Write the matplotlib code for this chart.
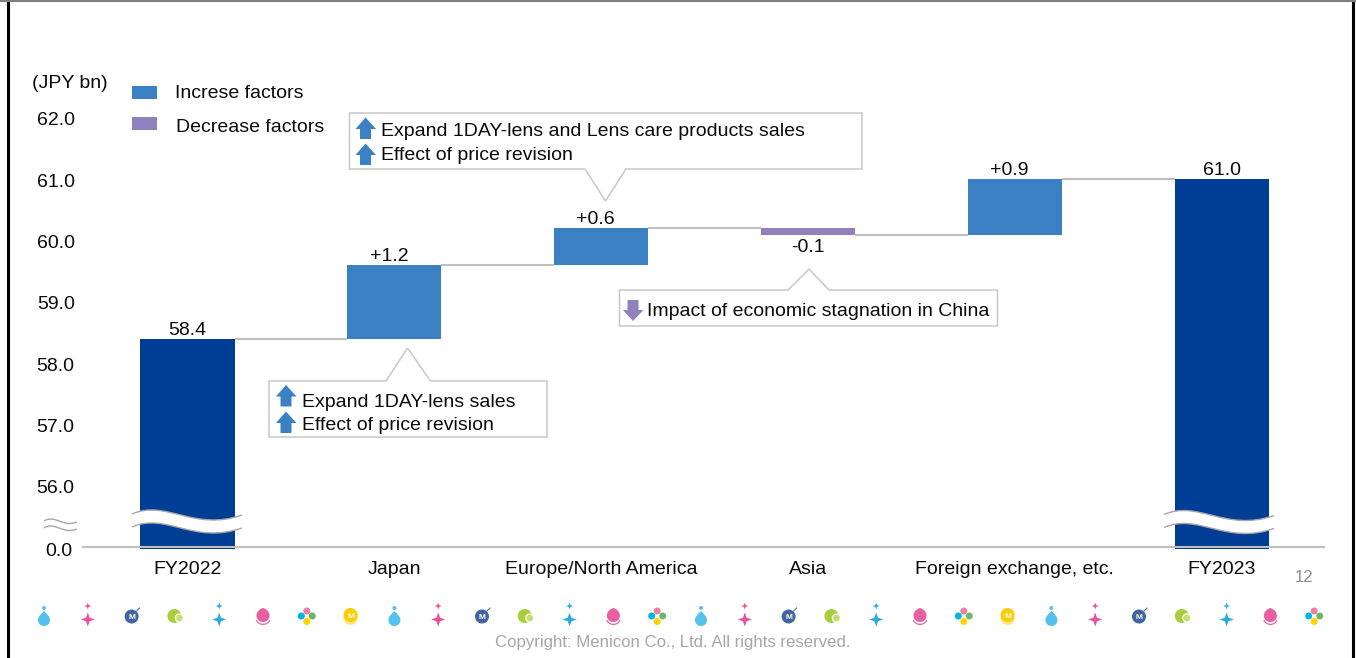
import numpy as np
import matplotlib
matplotlib.use('Agg')
import matplotlib.pyplot as plt
from matplotlib.patches import Circle, PathPatch, Polygon, Rectangle, Wedge
from matplotlib.path import Path
from matplotlib.transforms import ScaledTranslation

plt.rcParams['font.family'] = ['Liberation Sans', 'DejaVu Sans']

# chart data
categories = ['FY2022', 'Japan', 'Europe/North America', 'Asia',
              'Foreign exchange, etc.', 'FY2023']
start_total = 58.4
deltas = [1.2, 0.6, -0.1, 0.9]
end_total = 61.0
value_labels = ['58.4', '+1.2', '+0.6', '-0.1', '+0.9', '61.0']
y_ticks = [56, 57, 58, 59, 60, 61, 62]
y_tick_labels = ['56.0', '57.0', '58.0', '59.0', '60.0', '61.0', '62.0']
axis_floor = 55  #the broken axis: this level is labelled 0.0

NAVY = '#003E95'
BLUE = '#3C80C4'
PURPLE = '#9080BC'
GREY = '#BFBFBF'
INK = '#0A0A0A'
W, H = 1356, 658

fig = plt.figure(figsize=(W / 100, H / 100), dpi=100)

#main axes, placed so that 62 sits at pixel 118 and the floor at pixel 547.3
ax = fig.add_axes([83 / W, 1 - 547.3 / H, 1241 / W, (547.3 - 118) / H])
ax.set_xlim(-0.505, 5.495)
ax.set_ylim(axis_floor, 62)

#waterfall levels
levels = [start_total]
for d in deltas:
    levels.append(levels[-1] + d)
bar_w = 0.455

ax.bar(0, start_total - axis_floor + 0.03, bottom=axis_floor - 0.03, width=bar_w,
       color=NAVY, clip_on=False)
ax.bar(5, end_total - axis_floor + 0.03, bottom=axis_floor - 0.03, width=bar_w,
       color=NAVY, clip_on=False)
for i, d in enumerate(deltas):
    ax.bar(i + 1, abs(d), bottom=min(levels[i], levels[i + 1]), width=bar_w,
           color=BLUE if d > 0 else PURPLE)

#connector lines between the bars
for i, level in enumerate(levels):
    ax.plot([i + bar_w / 2, i + 1 - bar_w / 2], [level, level], color=GREY, lw=1.5,
            solid_capstyle='butt')

#value labels, pushed off the bar ends
tops = [start_total] + [max(levels[i], levels[i + 1]) for i in range(4)] + [end_total]
offsets = [(0, 8), (-5, 9), (-6, 9), (0, -19), (-6, 9), (0, 9)]
for i, label in enumerate(value_labels):
    ax.annotate(label, (i, tops[i]), xytext=offsets[i], textcoords='offset pixels',
                ha='center', va='center', fontsize=14, color=INK)

ax.set_xticks(range(len(categories)))
ax.set_xticklabels(categories, fontsize=14, color=INK)
ax.set_yticks(y_ticks)
ax.set_yticklabels(y_tick_labels, fontsize=14, color=INK)
ax.tick_params(axis='both', length=0)
ax.tick_params(axis='x', pad=10)
ax.tick_params(axis='y', pad=6)
nudge = ScaledTranslation(0, -1 / 100, fig.dpi_scale_trans)
for t in ax.get_yticklabels():
    t.set_transform(t.get_transform() + nudge)
for side in ['top', 'left', 'right']:
    ax.spines[side].set_visible(False)
ax.spines['bottom'].set_color(GREY)
ax.spines['bottom'].set_linewidth(1.5)
ax.annotate('0.0', (-0.505, axis_floor), xytext=(-11, -4), textcoords='offset pixels',
            ha='right', va='center', fontsize=14, color=INK, annotation_clip=False)

#overlay in pixel coordinates for the slide furniture
ov = fig.add_axes([0, 0, 1, 1], zorder=5)
ov.set_xlim(0, W)
ov.set_ylim(H, 0)
ov.axis('off')

#slide frame
ov.plot([7.5, 7.5], [0, H], color='black', lw=2.2)
ov.plot([1353, 1353], [0, H], color='black', lw=2.2)
ov.plot([0, W], [0.8, 0.8], color='#808080', lw=1.5)


def wave(x0, dy):
    #one curve of a wavy break mark
    pts = [(x0, 514), (x0 + 34, 499), (x0 + 62, 532), (x0 + 110, 515)]
    return [(x, y + dy) for x, y in pts]


def draw_break(x0, y_shift):
    top = wave(x0, y_shift)
    low = wave(x0, y_shift + 13)
    verts = top + [low[3]] + [low[2], low[1], low[0]] + [top[0]]
    codes = [Path.MOVETO, Path.CURVE4, Path.CURVE4, Path.CURVE4, Path.LINETO,
             Path.CURVE4, Path.CURVE4, Path.CURVE4, Path.CLOSEPOLY]
    ov.add_patch(PathPatch(Path(verts, codes), fc='white', ec='none'))
    for c in (top, low):
        ov.add_patch(PathPatch(Path(c, [Path.MOVETO, Path.CURVE4, Path.CURVE4, Path.CURVE4]),
                               fc='none', ec='#A6A6A6', lw=1))


draw_break(132, 0)
draw_break(1164, 0.5)

#little break mark on the y axis
for dy in (0, 7):
    ov.add_patch(PathPatch(Path([(44, 521 + dy), (55, 514 + dy), (63, 528 + dy), (77, 522 + dy)],
                                [Path.MOVETO, Path.CURVE4, Path.CURVE4, Path.CURVE4]),
                           fc='none', ec='#A6A6A6', lw=1))

#legend
ov.add_patch(Rectangle((132, 86), 25, 13, fc=BLUE, ec='none'))
ov.add_patch(Rectangle((132, 117), 25, 13, fc=PURPLE, ec='none'))
ov.text(175, 93, 'Increse factors', fontsize=14, va='center', color=INK)
ov.text(176, 128, 'Decrease factors', fontsize=14, va='center', color=INK)
ov.text(32, 84, '(JPY bn)', fontsize=14, va='center', color=INK)


def callout(points):
    ov.add_patch(Polygon(points, closed=True, fc='white', ec='#C8C8C8', lw=1.1))


def up_arrow(x, top):
    ov.add_patch(Polygon([(x + 10, top), (x + 20.5, top + 11.5), (x + 15.5, top + 11.5),
                          (x + 15.5, top + 21.5), (x + 4.5, top + 21.5), (x + 4.5, top + 11.5),
                          (x, top + 11.5)], closed=True, fc=BLUE, ec='none'))


def down_arrow(x, top):
    ov.add_patch(Polygon([(x + 4.5, top), (x + 15.5, top), (x + 15.5, top + 10), (x + 20.5, top + 10),
                          (x + 10, top + 21), (x, top + 10), (x + 4.5, top + 10)],
                         closed=True, fc=PURPLE, ec='none'))


callout([(349.5, 113), (862, 113), (862, 169), (626, 169), (605.5, 201), (585, 169), (349.5, 169)])
up_arrow(355.5, 117.5)
up_arrow(355.5, 143.5)
ov.text(381, 131, 'Expand 1DAY-lens and Lens care products sales', fontsize=14, va='center', color=INK)
ov.text(381, 155, 'Effect of price revision', fontsize=14, va='center', color=INK)

callout([(269, 381), (386, 381), (407.5, 348), (430.5, 381), (547, 381), (547, 437), (269, 437)])
up_arrow(276, 385)
up_arrow(276, 411.5)
ov.text(302, 402.5, 'Expand 1DAY-lens sales', fontsize=14, va='center', color=INK)
ov.text(302, 425.5, 'Effect of price revision', fontsize=14, va='center', color=INK)

callout([(619.5, 290), (788, 290), (809, 269), (829, 290), (997.5, 290), (997.5, 326), (619.5, 326)])
down_arrow(623, 300)
ov.text(647, 311.5, 'Impact of economic stagnation in China', fontsize=14, va='center', color=INK)

#footer
ov.text(1304.5, 578, '12', fontsize=12, ha='center', va='center', color='#8C8C8C')
ov.text(673, 643, 'Copyright: Menicon Co., Ltd. All rights reserved.', fontsize=12.1,
        ha='center', va='center', color='#A6A6A6')


def drop(cx, top, bottom, r, color):
    cy = bottom - r
    verts = [(cx, top), (cx + r * 0.5, cy - r), (cx + r, cy - r * 0.6), (cx + r, cy),
             (cx + r, cy + r * 1.33), (cx - r, cy + r * 1.33), (cx - r, cy),
             (cx - r, cy - r * 0.6), (cx - r * 0.5, cy - r), (cx, top), (cx, top)]
    codes = [Path.MOVETO] + [Path.CURVE4] * 9 + [Path.CLOSEPOLY]
    ov.add_patch(PathPatch(Path(verts, codes), fc=color, ec='none'))


def star(cx, cy, r, color):
    t = r * 0.26
    ov.add_patch(Polygon([(cx, cy - r), (cx + t, cy - t), (cx + r, cy), (cx + t, cy + t),
                          (cx, cy + r), (cx - t, cy + t), (cx - r, cy), (cx - t, cy - t)],
                         closed=True, fc=color, ec='none'))


def sparkle(cx, color):
    star(cx, 606, 3.5, color)
    star(cx, 619.5, 7, color)


def icon(kind, cx):
    if kind == 'drop':
        ov.add_patch(Circle((cx, 608), 2, fc='#55C1EE', ec='none'))
        drop(cx, 611, 626, 6, '#55C1EE')
    elif kind == 'pink_star':
        sparkle(cx, '#E8509A')
    elif kind == 'ball':
        ov.add_patch(Circle((cx, 616.5), 7, fc='#41659F', ec='none'))
        ov.text(cx, 617.5, 'M', fontsize=6, fontweight='bold', color='white', ha='center', va='center')
        ov.plot([cx + 5, cx + 8], [611, 608], color='#41659F', lw=0.7)
    elif kind == 'green':
        ov.add_patch(Circle((cx - 1, 616), 7, fc='#A9CE3B', ec='none'))
        ov.add_patch(Circle((cx + 4, 618), 4, fc='#C5DE70', ec='white', lw=0.9))
    elif kind == 'blue_star':
        sparkle(cx, '#29ABE2')
    elif kind == 'pink_drop':
        drop(cx, 608, 622, 6.5, '#EA609F')
        ov.add_patch(Wedge((cx, 617), 8, 25, 155, width=1.2, fc='#EA609F', ec='none'))
    elif kind == 'flower':
        ov.add_patch(Circle((cx, 611), 3.5, fc='#EB7FA5', ec='none'))
        ov.add_patch(Circle((cx - 5.5, 616), 3.5, fc='#00B5E2', ec='none'))
        ov.add_patch(Circle((cx + 5.5, 616), 3.5, fc='#6DB56D', ec='none'))
        ov.add_patch(Circle((cx, 621.5), 3.5, fc='#FFD400', ec='none'))
    else:
        ov.add_patch(Circle((cx, 618), 7, fc='#FFE680', ec='none'))
        ov.add_patch(Circle((cx, 615), 7, fc='#FFCC00', ec='none'))
        ov.text(cx, 616, 'M', fontsize=6, fontweight='bold', color='white', ha='center', va='center')


row_full = ['drop', 'pink_star', 'ball', 'green', 'blue_star', 'pink_drop', 'flower', 'gold']
icons = row_full + row_full[:7] + row_full + row_full[:7]
for n, kind in enumerate(icons):
    icon(kind, 44 + n * 43.8)

fig.savefig('out.png', dpi=100)
